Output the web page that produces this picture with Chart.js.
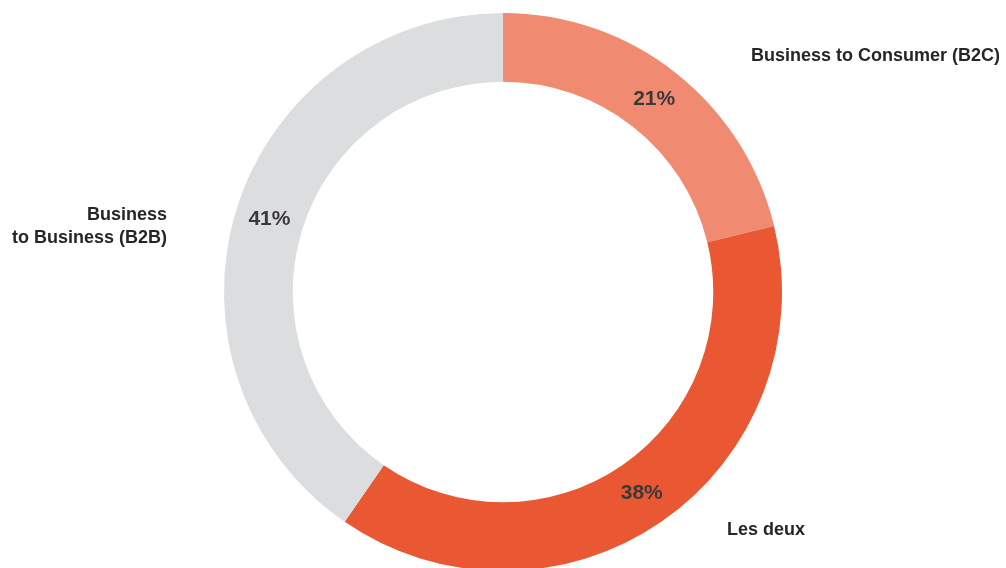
<!DOCTYPE html>
<html>
<head>
<meta charset="utf-8">
<script src="https://cdn.jsdelivr.net/npm/chart.js@4/dist/chart.umd.min.js"></script>
<style>
  html, body { margin: 0; padding: 0; background: #ffffff; overflow: hidden; }
  #wrap { position: relative; width: 1006px; height: 568px; }
</style>
</head>
<body>
<div id="wrap"><canvas id="c" width="1006" height="568"></canvas></div>
<script>
// Data
const categories = ['Business to Consumer (B2C)', 'Les deux', 'Business to Business (B2B)'];
const shares = [21.2, 38.4, 40.4];
const percentLabels = ['21%', '38%', '41%'];
const sliceColors = ['#F08A70', '#E95733', '#DCDDDF'];

// Outer category labels (text lines + placement)
const outerLabels = [
  { lines: ['Business to Consumer (B2C)'], x: 1000, y: 56, align: 'right' },
  { lines: ['Les deux'], x: 727, y: 530, align: 'left' },
  { lines: ['Business', 'to Business (B2B)'], x: 167, y: 215, align: 'right' }
];

const labelPlugin = {
  id: 'labelPlugin',
  afterDatasetsDraw(chart) {
    const ctx = chart.ctx;
    const meta = chart.getDatasetMeta(0);
    ctx.save();
    ctx.font = 'bold 21px "Liberation Sans", Arial, sans-serif';
    ctx.fillStyle = '#3a3a3a';
    ctx.textAlign = 'center';
    ctx.textBaseline = 'middle';
    meta.data.forEach((arc, i) => {
      const p = arc.getCenterPoint();
      ctx.fillText(percentLabels[i], p.x, p.y);
    });
    ctx.font = 'bold 18px "Liberation Sans", Arial, sans-serif';
    ctx.fillStyle = '#262626';
    outerLabels.forEach(l => {
      ctx.textAlign = l.align;
      l.lines.forEach((t, j) => ctx.fillText(t, l.x, l.y + j * 23));
    });
    ctx.restore();
  }
};

new Chart(document.getElementById('c'), {
  type: 'doughnut',
  data: {
    labels: categories,
    datasets: [{
      data: shares,
      backgroundColor: sliceColors,
      borderWidth: 0,
      hoverOffset: 0
    }]
  },
  options: {
    responsive: false,
    animation: false,
    radius: 279,
    cutout: 208,
    layout: { padding: { top: 16, bottom: 0, left: 0, right: 0 } },
    plugins: {
      legend: { display: false },
      tooltip: { enabled: false }
    }
  },
  plugins: [labelPlugin]
});
</script>
</body>
</html>
